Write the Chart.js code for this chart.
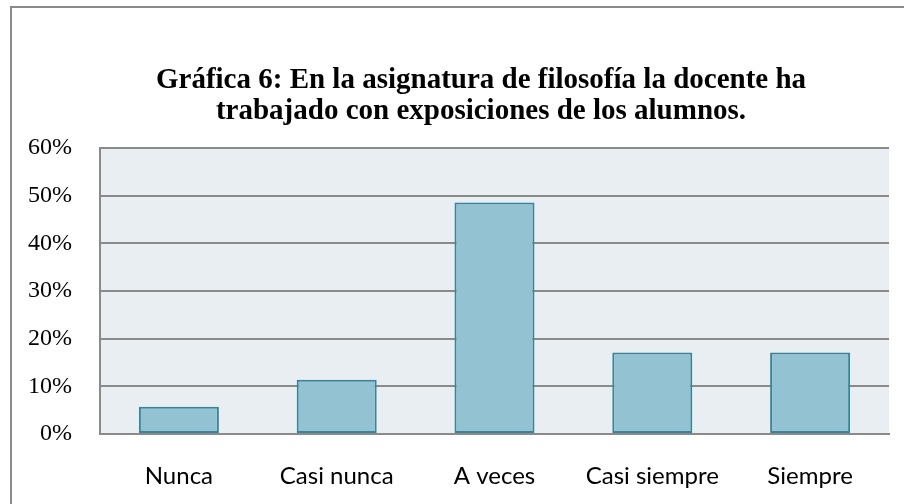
<!DOCTYPE html>
<html>
<head>
<meta charset="utf-8">
<script src="https://cdn.jsdelivr.net/npm/chart.js@4.4.1/dist/chart.umd.min.js"></script>
<style>
  body { margin: 0; background: #fff; }
  .frame {
    position: absolute; left: 10px; top: 6px;
    width: 920px; height: 520px;
    border: 2px solid #8a8a8a;
    pointer-events: none;
  }
  #wrap { position: absolute; left: 0; top: 0; width: 904px; height: 504px; }
</style>
</head>
<body>
<div id="wrap"><canvas id="myChart" width="904" height="504"></canvas></div>
<div class="frame"></div>
<script>

// data

const categories = ['Nunca', 'Casi nunca', 'A veces', 'Casi siempre', 'Siempre'];
const porcentajes = [5.7, 11.4, 48.6, 17.1, 17.1];
const y_ticks = [0, 10, 20, 30, 40, 50, 60];
const chart_title = ['Gráfica 6: En la asignatura de filosofía la docente ha',
                     'trabajado con exposiciones de los alumnos.'];

// plot background + title shift

const plotBg = {
    id: 'plotBg',
    beforeDraw(chart) {
        const a = chart.chartArea;
        const ctx = chart.ctx;
        ctx.save();
        ctx.fillStyle = '#e8eef2';
        ctx.fillRect(a.left, a.top, a.right - a.left, a.bottom - a.top);
        ctx.restore();
    }
};

const titleShift = {
    id: 'titleShift',
    afterLayout(chart) {
        const t = chart.titleBlock;
        const d = 481 - (t.left + t.right) / 2;
        t.left += d;
        t.right += d;
    }
};

const ctx = document.getElementById('myChart').getContext('2d');
const myChart = new Chart(ctx, {
    type: 'bar',
    data: {
        labels: categories,
        datasets: [{
            data: porcentajes,
            backgroundColor: '#93c3d3',
            borderColor: '#3a8499',
            borderWidth: 2,
            borderSkipped: false,
            categoryPercentage: 1,
            barPercentage: 0.507
        }]
    },
    options: {
        responsive: false,
        animation: false,
        layout: { padding: { left: 28, right: 15, top: 0, bottom: 13 } },
        plugins: {
            legend: { display: false },
            tooltip: { enabled: false },
            title: {
                display: true,
                text: chart_title,
                color: '#000',
                font: { family: 'Liberation Serif', size: 29, weight: 'bold', lineHeight: 1.07 },
                padding: { top: 65, bottom: 21 }
            }
        },
        scales: {
            x: {
                afterFit(axis) { axis.height = 57; },
                grid: { display: false, drawTicks: false },
                border: { display: true, color: '#8a8a8a', width: 2 },
                ticks: {
                    color: '#000',
                    padding: 28,
                    font: { family: 'Lato', size: 24 }
                }
            },
            y: {
                min: 0,
                max: 60,
                afterFit(axis) { axis.width = 72; },
                afterBuildTicks(axis) {
                    axis.ticks = y_ticks.map(v => ({ value: v }));
                },
                grid: { color: '#8a8a8a', lineWidth: 2, drawTicks: false },
                border: { display: true, color: '#8a8a8a', width: 2 },
                ticks: {
                    color: '#000',
                    padding: 28,
                    font: { family: 'Liberation Serif', size: 24 },
                    callback: v => v + '%'
                }
            }
        }
    },
    plugins: [plotBg, titleShift]
});
</script>
</body>
</html>
